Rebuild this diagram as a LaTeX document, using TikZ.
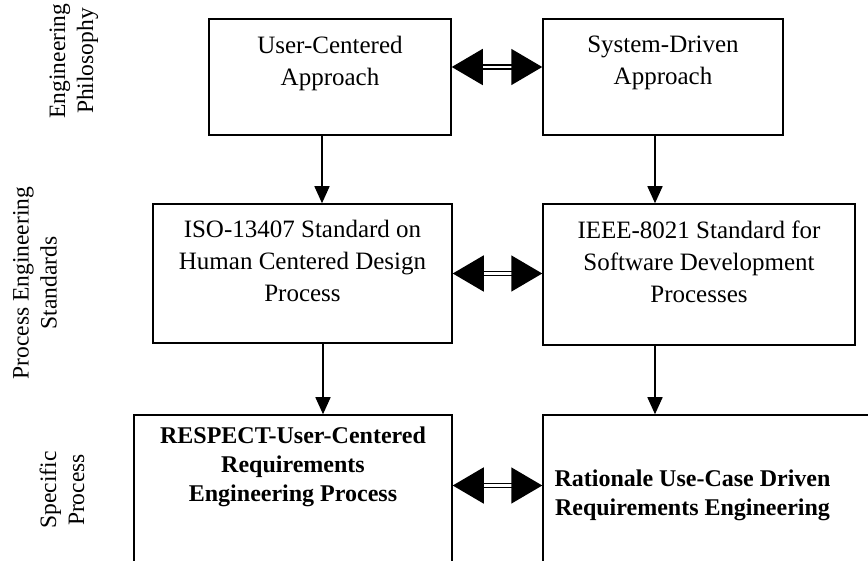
\documentclass[tikz,border=0pt]{standalone}
\usepackage{fontspec}
\setmainfont{Liberation Serif}
\usetikzlibrary{arrows.meta,positioning}

\tikzset{
  blk/.style={draw, line width=1.5pt, inner sep=0pt},
  txt/.style={align=center, inner sep=0pt, font=\fontsize{25}{32}\selectfont},
  btxt/.style={txt, font=\bfseries\fontsize{24}{29}\selectfont},
  side/.style={txt, rotate=90, font=\fontsize{23.5}{28}\selectfont},
  dn/.style={line width=1.5pt, -{Triangle[length=17pt,width=15pt]}},
  lr/.style={double, double distance=2.5pt, line width=1.6pt,
    {Triangle[length=31pt,width=36pt]}-{Triangle[length=31pt,width=36pt]}}
}

\begin{document}
\begin{tikzpicture}[x=1pt,y=-1pt]
\clip (0,0) rectangle (868,561);

% row labels
\node[side] (lphil) at (74,61) {Engineering\\Philosophy};
\node[side] (lstd) at (35,283) {Process Engineering\\Standards};
\node[side] (lspec) at (62,490) {Specific\\Process};

% boxes
\node[blk, minimum width=242, minimum height=116] (uca) at (330,77) {};
\node[blk, minimum width=240, minimum height=116] (sda) at (663,77) {};
\node[blk, minimum width=299, minimum height=139] (iso) at (302.5,273.5) {};
\node[blk, minimum width=312, minimum height=141] (ieee) at (699,274.5) {};
\node[blk, minimum width=318, minimum height=185] (resp) at (293,507.5) {};
\node[blk, minimum width=357, minimum height=185] (rat) at (721.5,507.5) {};

% box texts
\node[txt, below=18pt] (tuca) at (uca.north) {User-Centered\\Approach};
\node[txt, below=18pt] (tsda) at (sda.north) {System-Driven\\Approach};
\node[txt, below=17pt] (tiso) at (iso.north) {ISO-13407 Standard on\\Human Centered Design\\Process};
\node[txt, below=17pt] (tieee) at (ieee.north) {IEEE-8021 Standard for\\Software Development\\Processes};
\node[btxt, below=12pt] (tresp) at (resp.north) {RESPECT-User-Centered\\Requirements\\Engineering Process};
\node[btxt, below=55pt, xshift=-29pt] (trat) at (rat.north) {Rationale Use-Case Driven\\Requirements Engineering};

% flows down
\draw[dn] ([xshift=-8]uca.south) -- ([xshift=-8]uca.south |- iso.north);
\draw[dn] ([xshift=-8]sda.south) -- ([xshift=-8]sda.south |- ieee.north);
\draw[dn] ([xshift=20.5]iso.south) -- ([xshift=20.5]iso.south |- resp.north);
\draw[dn] ([xshift=-44]ieee.south) -- ([xshift=-44]ieee.south |- rat.north);

% links across
\draw[lr] ([yshift=10]uca.east) -- ([yshift=10]uca.east -| sda.west);
\draw[lr] (iso.east) -- (iso.east -| ieee.west);
\draw[lr] ([yshift=22]resp.east) -- ([yshift=22]resp.east -| rat.west);
\end{tikzpicture}
\end{document}
